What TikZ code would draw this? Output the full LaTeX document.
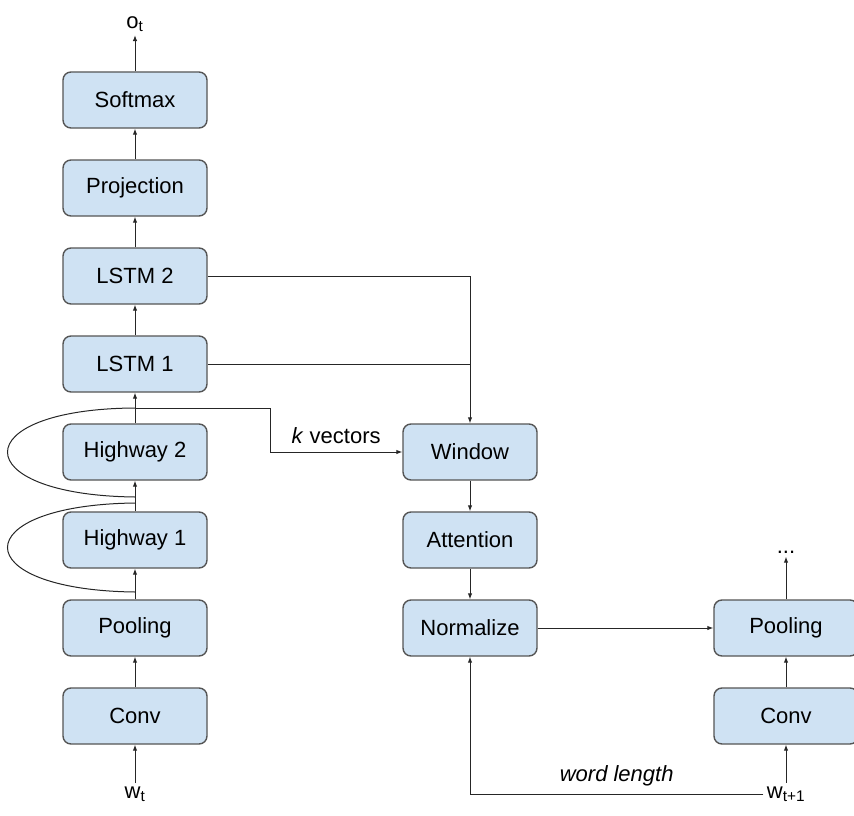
\documentclass[tikz,border=0pt]{standalone}
\usepackage{fontspec}
\setmainfont{Liberation Sans}
\usetikzlibrary{arrows.meta}
\definecolor{boxfill}{HTML}{CFE2F3}
\definecolor{boxline}{HTML}{555555}
\definecolor{wire}{HTML}{262626}
\begin{document}
\begin{tikzpicture}[x=1pt, y=-1pt,
		font=\fontsize{22}{26}\selectfont,
		block/.style={draw=boxline, fill=boxfill, line width=1.4pt, rounded corners=8pt, minimum width=144pt, minimum height=56pt, inner sep=0pt},
		narrow/.style={block, minimum width=134pt},
		flow/.style={draw=wire, line width=1pt, -{Latex[length=6pt,width=4.5pt]}},
		wire/.style={draw=wire, line width=1pt}]
	\useasboundingbox (0,0) rectangle (854,816);

	% left column
	\node[block] (softmax) at (135,100) {Softmax};
	\node[block] (projection) at (135,188) {Projection};
	\node[block] (lstmtwo) at (135,276) {LSTM 2};
	\node[block] (lstmone) at (135,364) {LSTM 1};
	\node[block] (hwtwo) at (135,452) {Highway 2};
	\node[block] (hwone) at (135,540) {Highway 1};
	\node[block] (pooling) at (135,628) {Pooling};
	\node[block] (conv) at (135,716) {Conv};
	\node (ot) at (135,24) {o\textsubscript{t}};
	\node (wt) at (135,794) {w\textsubscript{t}};

	% middle column
	\node[narrow] (window) at (470,452) {Window};
	\node[narrow] (attention) at (470,540) {Attention};
	\node[narrow] (normalize) at (470,628) {Normalize};

	% right column
	\node[block] (poolnext) at (786,628) {Pooling};
	\node[block] (convnext) at (786,716) {Conv};
	\node (dots) at (786,552) {...};
	\node (wnext) at (786,794) {w\textsubscript{t+1}};

	\coordinate (ksplit) at (135,408);
	\coordinate (kturn) at (270,408);
	\coordinate (hwonetop) at (135,497);
	\coordinate (hwtwobot) at (135,503);
	\coordinate (poolingtop) at (135,592);

	\draw[flow] (wt) -- (conv);
	\draw[flow] (conv) -- (pooling);
	\draw[flow] (pooling) -- (hwone);
	\draw[flow] (hwone) -- (hwtwo);
	\draw[flow] (hwtwo) -- (lstmone);
	\draw[flow] (lstmone) -- (lstmtwo);
	\draw[flow] (lstmtwo) -- (projection);
	\draw[flow] (projection) -- (softmax);
	\draw[flow] (softmax) -- (ot);

	% highway skip loops
	\draw[wire] (ksplit) .. controls (-35,409) and (-35,495) .. (hwonetop);
	\draw[wire] (hwtwobot) .. controls (-35,505) and (-35,590) .. (poolingtop);

	\draw[flow] (ksplit) -- (kturn) |- (window) node[pos=0.75, above=4pt] {\textit{k} vectors};
	\draw[flow] (lstmtwo.east) -| (window.north);
	\draw[wire] (lstmone.east) -- (lstmone.east -| window.north);

	\draw[flow] (window) -- (attention);
	\draw[flow] (attention) -- (normalize);
	\draw[flow] (normalize) -- (poolnext);
	\draw[flow] (wnext) -- (convnext);
	\draw[flow] (convnext) -- (poolnext);
	\draw[flow] (poolnext) -- (dots);
	\draw[flow] (wnext.west) -| (normalize.south) node[pos=0.25, above=4pt] {\textit{word length}};
\end{tikzpicture}
\end{document}
